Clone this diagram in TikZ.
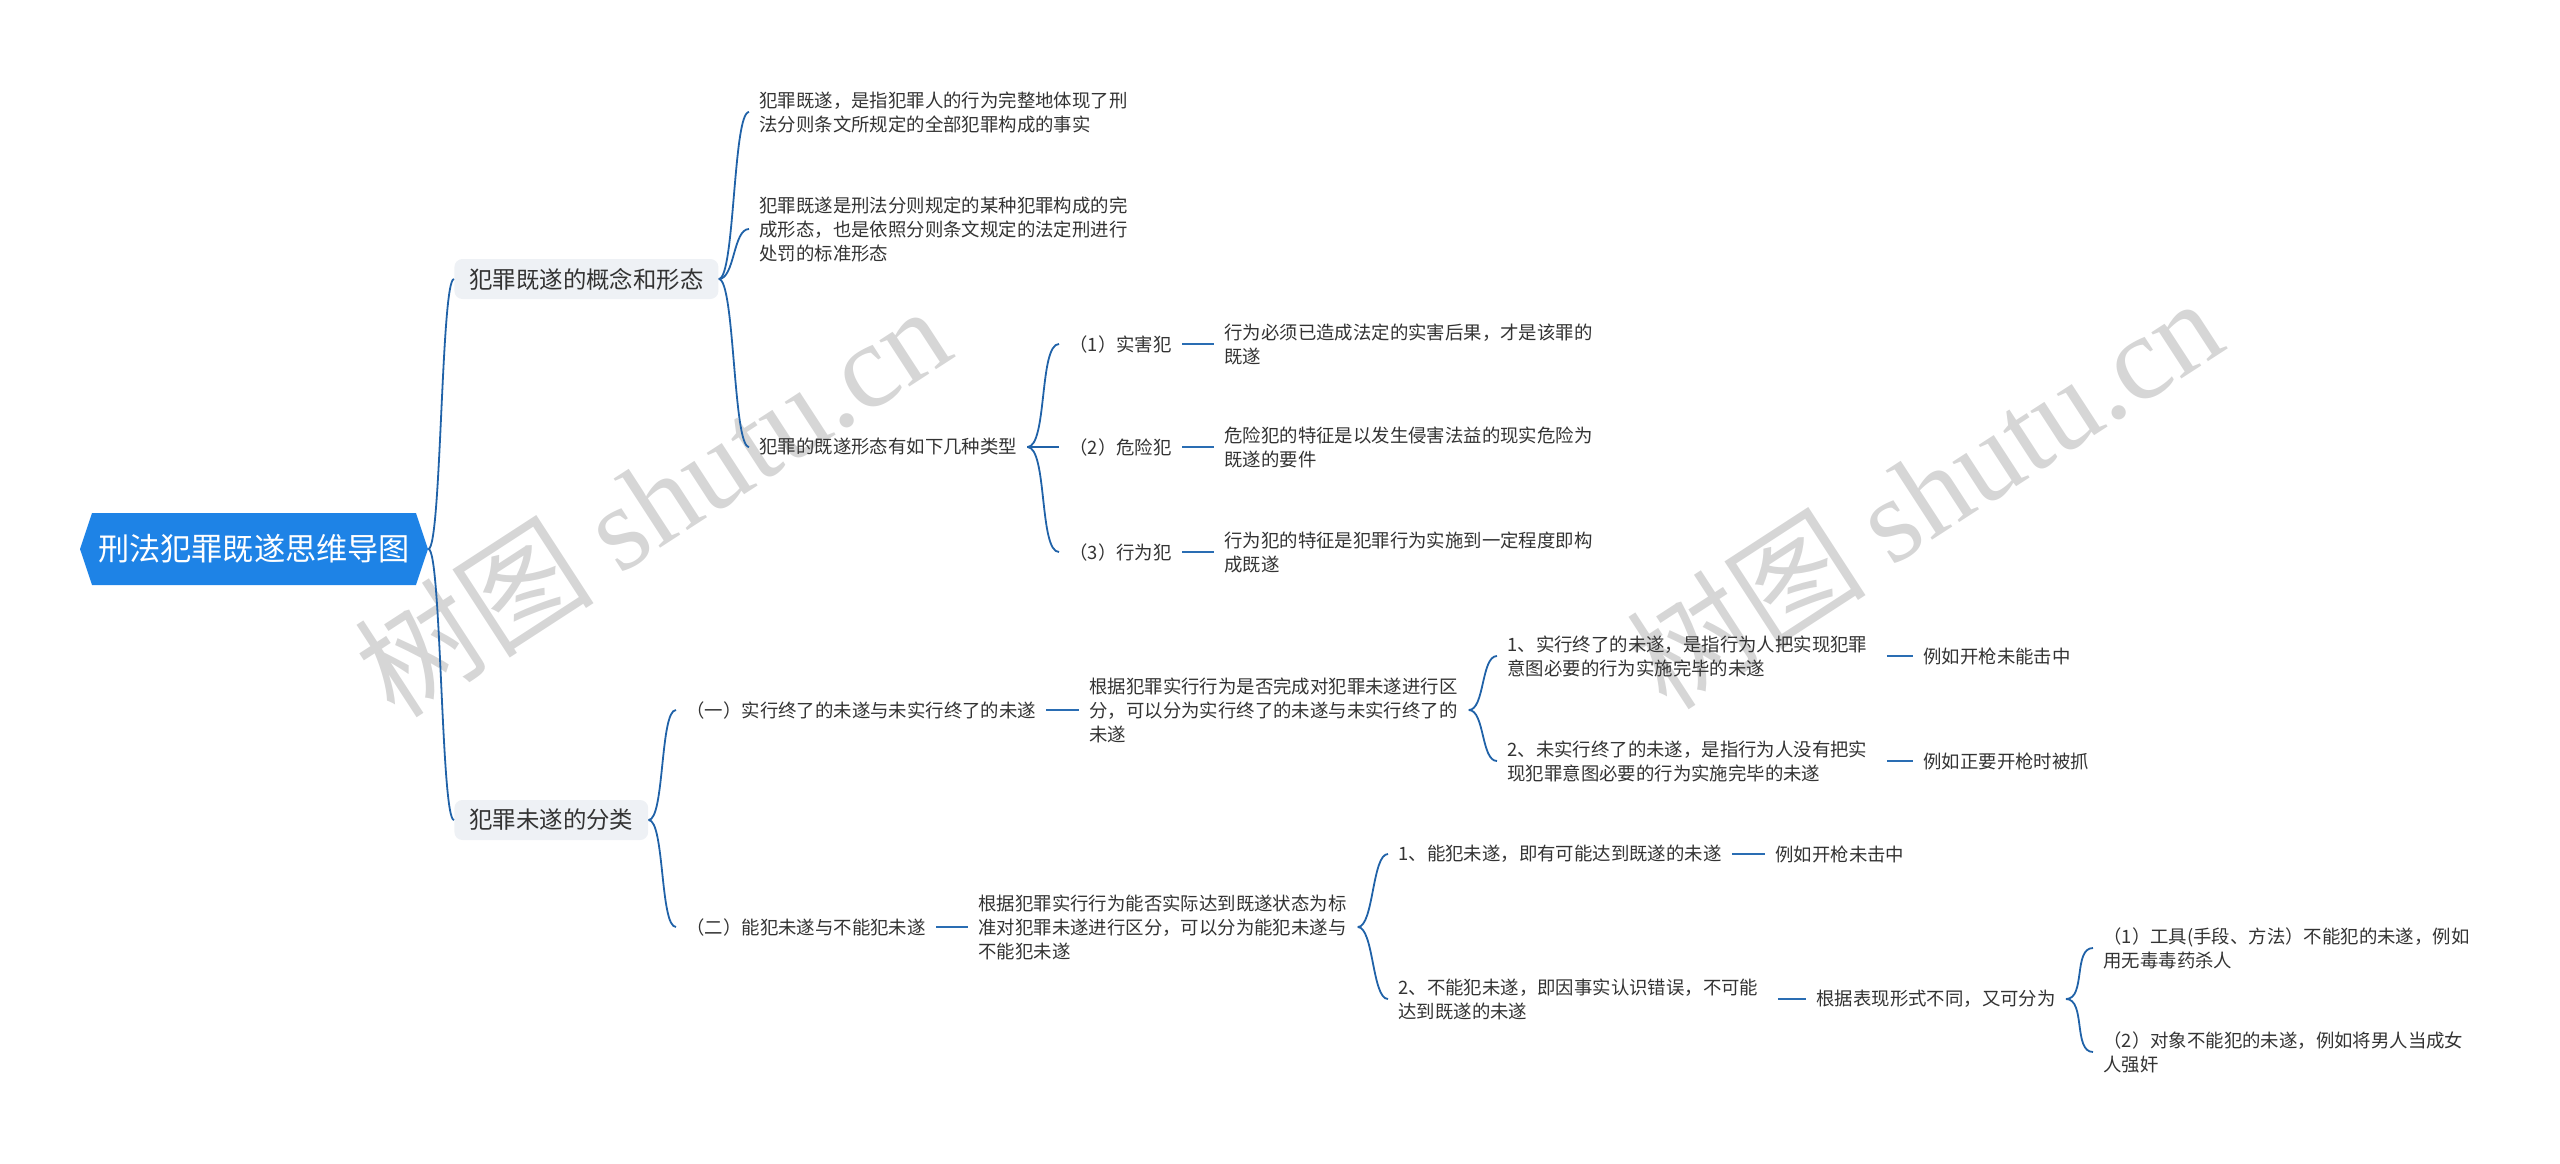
\documentclass[tikz,border=0pt]{standalone}
\usepackage{fontspec}
\setmainfont{Noto Sans CJK SC}
\newfontfamily\wmlatin{Liberation Serif}
\usepackage{xcolor}
\usepackage{tikz}
\usetikzlibrary{shapes.symbols}
\definecolor{rootblue}{HTML}{1E83E6}
\definecolor{topicgray}{HTML}{EEF1F5}
\definecolor{linkblue}{HTML}{2062A8}
\definecolor{stubblue}{HTML}{2A6DB3}
\definecolor{textgray}{HTML}{333333}
\definecolor{wmgray}{HTML}{D6D6D6}

\begin{document}
\begin{tikzpicture}[
  x=0.5pt, y=-0.5pt,
  root/.style={signal, signal to=west and east, signal pointer angle=143,
               fill=rootblue, text=white, minimum height=36pt, minimum width=174pt,
               inner xsep=2pt, font=\fontsize{15.6}{18}\selectfont},
  topic/.style={rectangle, rounded corners=4pt, fill=topicgray, text=textgray,
                minimum height=20pt, inner xsep=7.5pt, anchor=west,
                font=\fontsize{11.7}{14}\selectfont},
  leaf/.style={text=textgray, inner xsep=5pt, inner ysep=2pt, anchor=west,
               font=\fontsize{9.2}{12}\selectfont},
  para/.style={leaf, text width=184.5pt, align=left},
  link/.style={draw=linkblue, line width=0.9pt},
  stub/.style={draw=stubblue, line width=1.4pt},
  wm/.style={text=wmgray, rotate=33, font=\fontsize{60}{62}\selectfont},
]
\useasboundingbox (0,0) rectangle (2560,1163);

% watermark
\node[wm] (W1) at (652,500) {树图 {\wmlatin shutu.cn}};
\node[wm] (W2) at (1924,492) {树图 {\wmlatin shutu.cn}};

% root and main topics
\node[root] (RT) at (254,549) {刑法犯罪既遂思维导图};
\node[topic] (GN) at (454,279) {犯罪既遂的概念和形态};
\node[topic] (FL) at (454,820) {犯罪未遂的分类};

% 犯罪既遂
\node[para] (DY1) at (749,112) {犯罪既遂，是指犯罪人的行为完整地体现了刑\\法分则条文所规定的全部犯罪构成的事实};
\node[para] (DY2) at (749,229) {犯罪既遂是刑法分则规定的某种犯罪构成的完\\成形态，也是依照分则条文规定的法定刑进行\\处罚的标准形态};
\node[leaf] (LX) at (749,447) {犯罪的既遂形态有如下几种类型};

\node[leaf] (SH) at (1059,344) {（1）实害犯};
\node[leaf] (WX) at (1059,447) {（2）危险犯};
\node[leaf] (XW) at (1059,552) {（3）行为犯};

\node[para] (SHd) at (1214,344) {行为必须已造成法定的实害后果，才是该罪的\\既遂};
\node[para] (WXd) at (1214,447) {危险犯的特征是以发生侵害法益的现实危险为\\既遂的要件};
\node[para] (XWd) at (1214,552) {行为犯的特征是犯罪行为实施到一定程度即构\\成既遂};

% 犯罪未遂
\node[leaf] (SX) at (676,710) {（一）实行终了的未遂与未实行终了的未遂};
\node[leaf] (NF) at (676,927) {（二）能犯未遂与不能犯未遂};

\node[para] (SXg) at (1079,710) {根据犯罪实行行为是否完成对犯罪未遂进行区\\分，可以分为实行终了的未遂与未实行终了的\\未遂};
\node[para] (SZ1) at (1497,656) {1、实行终了的未遂，是指行为人把实现犯罪\\意图必要的行为实施完毕的未遂};
\node[para] (SZ2) at (1497,761) {2、未实行终了的未遂，是指行为人没有把实\\现犯罪意图必要的行为实施完毕的未遂};
\node[leaf] (SZ1e) at (1913,656) {例如开枪未能击中};
\node[leaf] (SZ2e) at (1913,761) {例如正要开枪时被抓};

\node[para] (NFg) at (968,927) {根据犯罪实行行为能否实际达到既遂状态为标\\准对犯罪未遂进行区分，可以分为能犯未遂与\\不能犯未遂};
\node[leaf] (NF1) at (1388,854) {1、能犯未遂，即有可能达到既遂的未遂};
\node[para] (NF2) at (1388,999) {2、不能犯未遂，即因事实认识错误，不可能\\达到既遂的未遂};
\node[leaf] (NF1e) at (1765,854) {例如开枪未击中};
\node[leaf] (NF2f) at (1806,999) {根据表现形式不同，又可分为};
\node[para] (GJ) at (2093,948) {（1）工具(手段、方法）不能犯的未遂，例如\\用无毒毒药杀人};
\node[para] (DX) at (2093,1052) {（2）对象不能犯的未遂，例如将男人当成女\\人强奸};

% curved links
\foreach \c in {GN,FL}
  \draw[link] (RT.east) .. controls +(13,0) and +(-13,0) .. (\c.west);
\foreach \c in {DY1,DY2,LX}
  \draw[link] (GN.east) .. controls +(16,0) and +(-16,0) .. (\c.west);
\foreach \c in {SH,WX,XW}
  \draw[link] (LX.east) .. controls +(20,0) and +(-20,0) .. (\c.west);
\foreach \c in {SX,NF}
  \draw[link] (FL.east) .. controls +(16,0) and +(-16,0) .. (\c.west);
\foreach \c in {SZ1,SZ2}
  \draw[link] (SXg.east) .. controls +(16,0) and +(-16,0) .. (\c.west);
\foreach \c in {NF1,NF2}
  \draw[link] (NFg.east) .. controls +(16,0) and +(-16,0) .. (\c.west);
\foreach \c in {GJ,DX}
  \draw[link] (NF2f.east) .. controls +(20,0) and +(-20,0) .. (\c.west);

% straight links
\draw[stub] (SH) -- (SHd);
\draw[stub] (WX) -- (WXd);
\draw[stub] (XW) -- (XWd);
\draw[stub] (SX) -- (SXg);
\draw[stub] (SZ1) -- (SZ1e);
\draw[stub] (SZ2) -- (SZ2e);
\draw[stub] (NF) -- (NFg);
\draw[stub] (NF1) -- (NF1e);
\draw[stub] (NF2) -- (NF2f);
\end{tikzpicture}
\end{document}
